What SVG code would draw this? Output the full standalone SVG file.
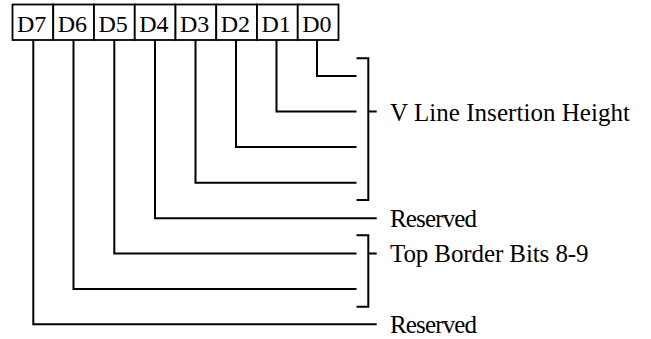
<svg xmlns="http://www.w3.org/2000/svg" width="651" height="339" viewBox="0 0 651 339">
<style>
.box{fill:#fff;stroke:#000;stroke-width:1.8}
.lbl{font-family:"Liberation Serif","Times New Roman",serif;font-size:24px;fill:#000}
.big{font-size:25px}
.ln{fill:none;stroke:#000;stroke-width:2;stroke-linejoin:miter;stroke-linecap:butt}
</style>
<g id="register">
<g id="bit-D7"><rect class="box" x="12.5" y="4.5" width="40.75" height="35.5"/><text class="lbl" x="17" y="32.3">D7</text></g>
<g id="bit-D6"><rect class="box" x="53.25" y="4.5" width="40.75" height="35.5"/><text class="lbl" x="57.7" y="32.3">D6</text></g>
<g id="bit-D5"><rect class="box" x="94" y="4.5" width="40.75" height="35.5"/><text class="lbl" x="98.5" y="32.3">D5</text></g>
<g id="bit-D4"><rect class="box" x="134.75" y="4.5" width="40.75" height="35.5"/><text class="lbl" x="139.2" y="32.3">D4</text></g>
<g id="bit-D3"><rect class="box" x="175.5" y="4.5" width="40.75" height="35.5"/><text class="lbl" x="180" y="32.3">D3</text></g>
<g id="bit-D2"><rect class="box" x="216.25" y="4.5" width="40.75" height="35.5"/><text class="lbl" x="220.7" y="32.3">D2</text></g>
<g id="bit-D1"><rect class="box" x="257" y="4.5" width="40.75" height="35.5"/><text class="lbl" x="261.5" y="32.3">D1</text></g>
<g id="bit-D0"><rect class="box" x="297.75" y="4.5" width="40.75" height="35.5"/><text class="lbl" x="302.2" y="32.3">D0</text></g>
</g>
<g id="connectors">
<polyline class="ln" points="317,40 317,76 356.5,76"/>
<polyline class="ln" points="276.5,40 276.5,111.5 356.5,111.5"/>
<polyline class="ln" points="236,40 236,147 356.5,147"/>
<polyline class="ln" points="195.5,40 195.5,182.7 356.5,182.7"/>
<polyline class="ln" points="155,40 155,218.3 376.7,218.3"/>
<polyline class="ln" points="114.3,40 114.3,253.5 356.5,253.5"/>
<polyline class="ln" points="73.5,40 73.5,289 356.5,289"/>
<polyline class="ln" points="33.3,40 33.3,324.3 376.7,324.3"/>
<path class="ln" d="M356.5 58.3 H368.3 V200 H356.5 M368.3 111.5 H376.7"/>
<path class="ln" d="M356.5 235.3 H368.3 V306.7 H356.5 M368.3 253.5 H376.7"/>
</g>
<g id="labels">
<text id="label-vline" class="lbl big" x="390" y="120.5" textLength="240" lengthAdjust="spacing">V Line Insertion Height</text>
<text id="label-reserved-1" class="lbl big" x="390" y="226.7" textLength="87" lengthAdjust="spacing">Reserved</text>
<text id="label-topborder" class="lbl big" x="390" y="261.8" textLength="198.5" lengthAdjust="spacing">Top Border Bits 8-9</text>
<text id="label-reserved-2" class="lbl big" x="390" y="332.8" textLength="87" lengthAdjust="spacing">Reserved</text>
</g>
</svg>
